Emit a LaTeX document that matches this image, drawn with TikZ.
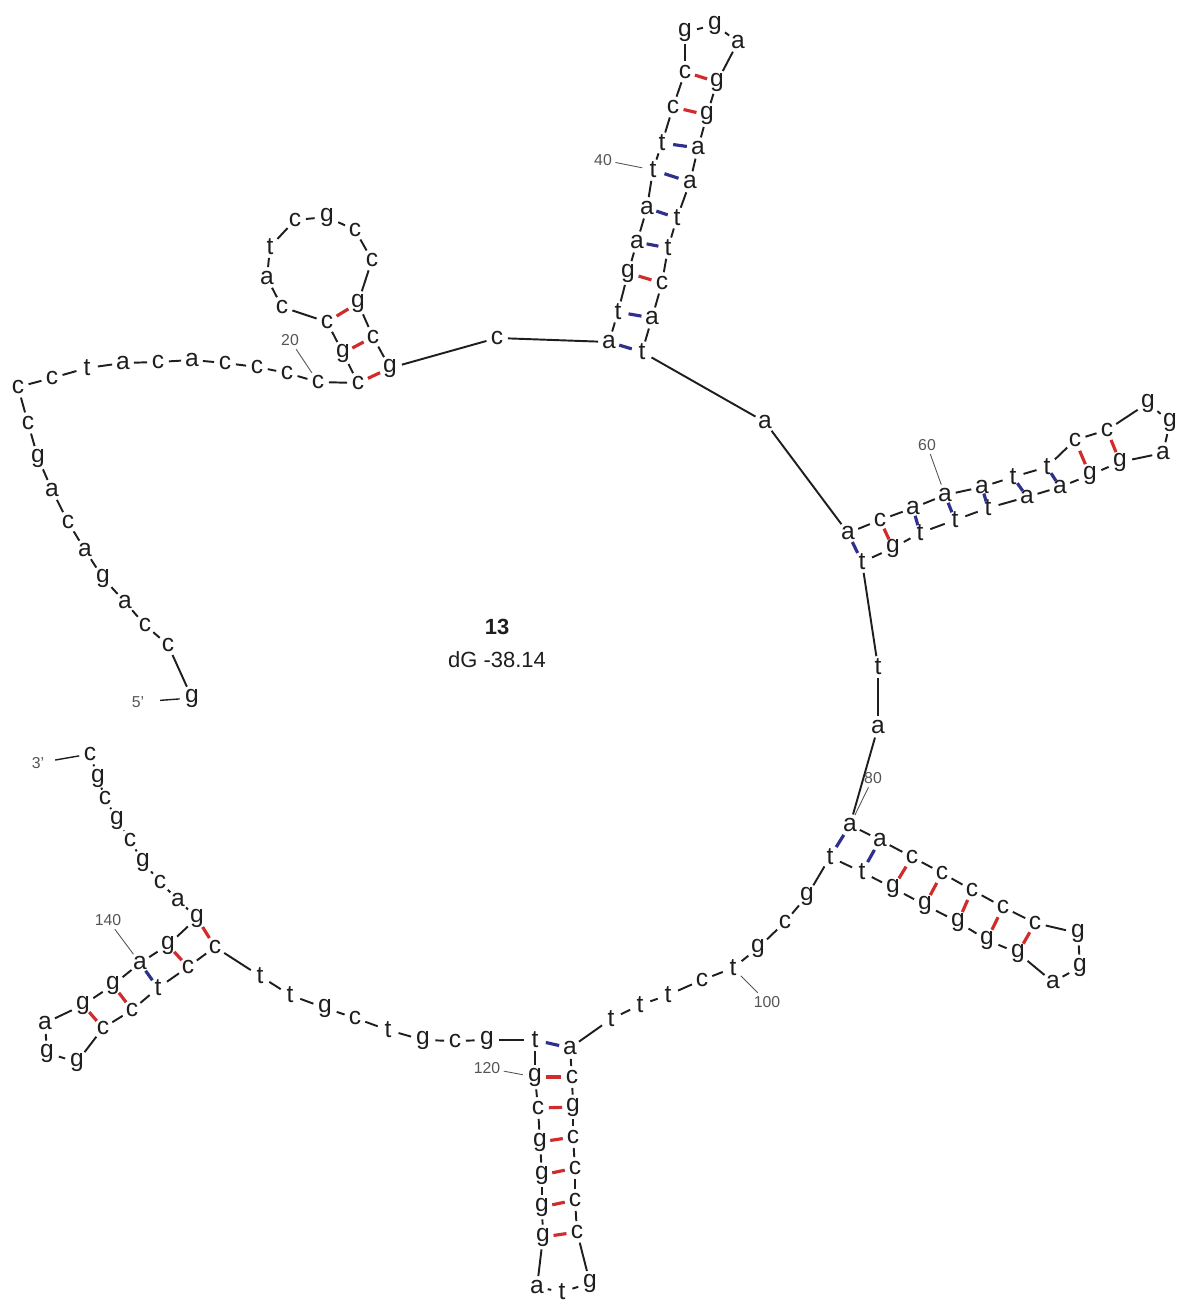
\documentclass[tikz,border=0pt]{standalone}
\usepackage{fontspec}
\setmainfont{Liberation Sans}
\usetikzlibrary{calc}
\definecolor{ink}{HTML}{1E1E1E}
\definecolor{gcred}{HTML}{D12B2B}
\definecolor{atblue}{HTML}{2F2F8C}
\definecolor{tickgray}{HTML}{555555}

\begin{document}
\begin{tikzpicture}[x=0.02cm,y=-0.02cm,line width=1.1pt,every node/.style={text=ink},nt/.style={circle,inner sep=0pt,minimum size=.4cm,font=\fontsize{14}{16}\selectfont},num/.style={inner sep=1.5pt,text=tickgray,font=\fontsize{9}{11}\selectfont},bb/.style={ink},lbl/.style={tickgray,line width=.5pt},gcpair/.style={gcred,line width=1.8pt},atpair/.style={atblue,line width=1.8pt}]
\path[use as bounding box] (0,0) rectangle (1185,1304);

% nucleotides, 5' to 3'
\foreach \i/\b/\x/\y in {1/g/192/698,2/c/168/645,3/c/145/625,4/a/125/602,5/g/103/578,6/a/85/550,7/c/68/522,8/a/52/490,9/g/38/458,10/c/28/423,
 11/c/18/387,12/c/52/378,13/t/87/368,14/a/123/363,15/c/158/362,16/a/192/360,17/c/225/363,18/c/257/367,19/c/287/373,20/c/318/382,
 21/c/358/383,22/g/343/353,23/c/327/322,24/c/282/307,25/a/267/278,26/t/270/247,27/c/295/220,28/g/327/217,29/c/355/230,30/c/372/260,
 31/g/358/303,32/c/373/337,33/g/390/368,34/c/497/338,35/a/609/342,36/t/618/312,37/g/628/273,38/a/637/242,39/a/647/208,40/t/653/170,
 41/t/662/143,42/c/673/107,43/c/685/72,44/g/685/32,45/g/715/25,46/a/738/42,47/g/717/82,48/g/707/115,49/a/698/148,50/a/690/182,
 51/t/677/218,52/t/668/248,53/c/662/283,54/a/652/318,55/t/642/352,56/a/765/422,57/a/848/533,58/c/880/520,59/a/913/508,60/a/945/495,
 61/a/982/487,62/t/1013/477,63/t/1047/467,64/c/1075/440,65/c/1107/430,66/g/1148/403,67/g/1170/422,68/a/1163/453,69/g/1120/462,70/g/1090/475,
 71/a/1060/487,72/a/1027/497,73/t/988/508,74/t/955/520,75/t/920/533,76/g/893/548,77/t/862/562,78/t/878/667,79/a/878/727,80/a/850/825,
 81/a/880/840,82/c/912/857,83/c/942/873,84/c/972/890,85/c/1003/907,86/c/1035/923,87/g/1078/933,88/g/1080/967,89/a/1053/982,90/g/1018/953,
 91/g/987/940,92/g/958/922,93/g/925/905,94/g/893/888,95/t/862/872,96/t/830/857,97/g/807/896,98/c/785/922,99/g/758/948,100/t/733/968,
 101/c/702/980,102/t/668/995,103/t/640/1005,104/t/611/1019,105/a/570/1048,106/c/572/1077,107/g/573/1107,108/c/573/1137,109/c/575/1168,110/c/575/1200,
 111/c/577/1232,112/g/590/1283,113/t/562/1292,114/a/537/1287,115/g/543/1237,116/g/542/1207,117/g/542/1175,118/g/540/1142,119/c/538/1108,120/g/535/1077,
 121/t/535/1040,122/g/487/1040,123/c/455/1041,124/g/423/1040,125/t/388/1030,126/c/355/1018,127/g/325/1008,128/t/290/995,129/t/260/976,130/c/215/947,
 131/c/188/967,132/t/158/988,133/c/132/1010,134/c/103/1028,135/g/77/1062,136/g/47/1053,137/a/45/1023,138/g/83/1005,139/g/113/985,140/a/140/963,
 141/g/168/945,142/g/197/918,143/a/178/900,144/c/160/882,145/g/143/862,146/c/130/840,147/g/117/820,148/c/105/798,149/g/98/778,150/c/90/754}
 \node[nt] (n\i) at (\x,\y) {\b};

% backbone
\foreach \i in {1,...,149}{\pgfmathtruncatemacro\j{\i+1}\draw[bb] (n\i)--(n\j);}

% base pairs
\foreach \i/\j in {21/33,22/32,23/31,37/53,42/48,43/47,58/76,64/70,65/69,82/94,83/93,84/92,85/91,86/90,106/120,107/119,108/118,109/117,110/116,111/115,130/142,131/141,133/139,134/138}
 \draw[gcpair] ($(n\i)!.31!(n\j)$)--($(n\i)!.69!(n\j)$);
\foreach \i/\j in {35/55,36/54,38/52,39/51,40/50,41/49,57/77,59/75,60/74,61/73,62/72,63/71,80/96,81/95,105/121,132/140}
 \draw[atpair] ($(n\i)!.31!(n\j)$)--($(n\i)!.69!(n\j)$);

% position marks
\foreach \i/\x/\y in {20/290/340,40/603/160,60/927/445,80/873/778,100/767/1002,120/487/1068,140/108/920}{
 \node[num] (l\i) at (\x,\y) {\i};
 \draw[lbl] (l\i)--(n\i);}
\node[num] (p5) at (138,702) {5'};
\draw[lbl,ink,line width=.8pt,shorten <=.25cm] (p5)--(n1);
\node[num] (p3) at (38,763) {3'};
\draw[lbl,ink,line width=.8pt,shorten <=.15cm] (p3)--(n150);

\node[font=\bfseries\fontsize{12.5}{14}\selectfont] (id) at (497,627) {13};
\node[font=\fontsize{12.5}{14}\selectfont] (dg) at (497,660) {dG -38.14};
\end{tikzpicture}
\end{document}
